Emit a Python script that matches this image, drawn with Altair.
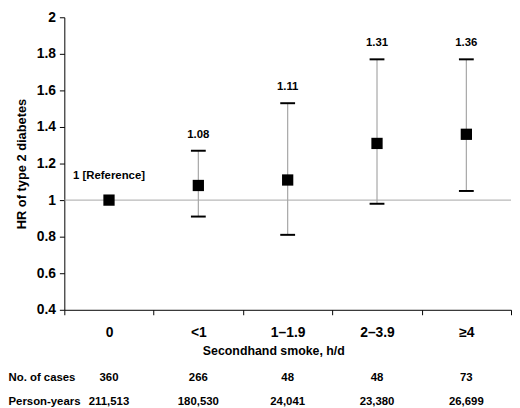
import altair as alt
import pandas as pd

# ---- data ----
categories = ["0", "<1", "1–1.9", "2–3.9", "≥4"]
hr = [1.00, 1.08, 1.11, 1.31, 1.36]
ci_lower = [None, 0.91, 0.81, 0.98, 1.05]
ci_upper = [None, 1.27, 1.53, 1.77, 1.77]
hr_labels = ["1 [Reference]", "1.08", "1.11", "1.31", "1.36"]
is_reference = [True, False, False, False, False]
y_ticks = [0.4, 0.6, 0.8, 1.0, 1.2, 1.4, 1.6, 1.8, 2.0]
row_names = ["No. of cases", "Person-years"]
no_of_cases = ["360", "266", "48", "48", "73"]
person_years = ["211,513", "180,530", "24,041", "23,380", "26,699"]

FONT = "Liberation Sans"
GRAY = "#a6a6a6"

df = pd.DataFrame({
    "category": categories,
    "hr": hr,
    "lower": ci_lower,
    "upper": ci_upper,
    "label": hr_labels,
    "ref": is_reference,
})

table = pd.DataFrame({
    "category": categories * 2,
    "row": [row_names[0]] * len(categories) + [row_names[1]] * len(categories),
    "value": no_of_cases + person_years,
})

x_enc = alt.X(
    "category:N",
    sort=categories,
    scale=alt.Scale(type="band", paddingInner=0, paddingOuter=0),
    axis=alt.Axis(
        title="Secondhand smoke, h/d",
        labelAngle=0,
        tickBand="extent",
        tickSize=5,
        labelPadding=11,
        titlePadding=5,
        titleX=211.5,
        labelFontSize=14,
        labelFontWeight="bold",
        titleFontSize=12.5,
        titleFontWeight="bold",
        domainColor="black",
        tickColor="black",
        labelColor="black",
        titleColor="black",
        grid=False,
    ),
)

y_scale = alt.Scale(domain=[0.4, 2.0], nice=False, zero=False)
y_axis = alt.Axis(
    values=y_ticks,
    format="~g",
    title="HR of type 2 diabetes",
    grid=False,
    tickSize=5,
    labelPadding=4,
    titlePadding=8,
    labelOverlap=False,
    labelFontSize=14,
    labelFontWeight="bold",
    titleFontSize=13,
    titleFontWeight="bold",
    domainColor="black",
    tickColor="black",
    labelColor="black",
    titleColor="black",
)


def y_of(field):
    return alt.Y(field, type="quantitative", scale=y_scale, axis=y_axis)


base = alt.Chart(df)
ci = base.transform_filter("datum.lower != null")

ref_line = base.transform_filter("datum.ref").mark_rule(color=GRAY, strokeWidth=1).encode(
    y=y_of("hr")
)
whisker = ci.mark_rule(color=GRAY, strokeWidth=1.2).encode(
    x=x_enc, y=y_of("lower"), y2="upper:Q"
)
cap_low = ci.mark_tick(color="black", thickness=2, size=15, opacity=1).encode(
    x=x_enc, y=y_of("lower")
)
cap_high = ci.mark_tick(color="black", thickness=2, size=15, opacity=1).encode(
    x=x_enc, y=y_of("upper")
)
points = base.mark_square(size=130, color="black", opacity=1, filled=True).encode(
    x=x_enc, y=y_of("hr")
)
ci_text = ci.mark_text(
    font=FONT, fontSize=11.5, fontWeight="bold", baseline="alphabetic", dy=-13, color="black"
).encode(x=x_enc, y=y_of("upper"), text="label:N")
ref_text = base.transform_filter("datum.ref").mark_text(
    font=FONT, fontSize=11.5, fontWeight="bold", baseline="alphabetic", dy=-21, color="black"
).encode(x=x_enc, y=y_of("hr"), text="label:N")

top = alt.layer(ref_line, whisker, cap_low, cap_high, points, ci_text, ref_text).properties(
    width=452, height=296
)

bottom = alt.Chart(table).mark_text(
    font=FONT, fontSize=11.5, fontWeight="bold", color="black"
).encode(
    x=alt.X(
        "category:N",
        sort=categories,
        scale=alt.Scale(type="band", paddingInner=0, paddingOuter=0),
        axis=None,
    ),
    y=alt.Y(
        "row:N",
        sort=row_names,
        scale=alt.Scale(type="point", padding=0),
        axis=alt.Axis(
            title=None,
            domain=False,
            ticks=False,
            labelAlign="left",
            labelPadding=57,
            labelFontSize=11.5,
            labelFontWeight="bold",
            labelColor="black",
        ),
    ),
    text="value:N",
).properties(width=452, height=24)

chart = (
    alt.vconcat(top, bottom, spacing=15)
    .properties(padding=0)
    .configure(font=FONT)
    .configure_view(strokeWidth=0)
)

chart.save("out.html", embed_options={"renderer": "svg", "actions": False})
